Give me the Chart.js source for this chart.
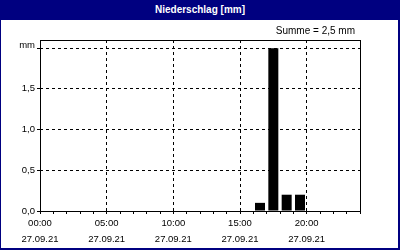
<!DOCTYPE html>
<html>
<head>
<meta charset="utf-8">
<script src="https://cdn.jsdelivr.net/npm/chart.js@4/dist/chart.umd.min.js"></script>
<style>
  html, body { margin: 0; padding: 0; }
  body { width: 400px; height: 250px; background: #000080; position: relative; overflow: hidden;
         font-family: "Liberation Sans", Arial, sans-serif; }
  .title { position: absolute; left: 0; top: 0; width: 400px; height: 20px; line-height: 19px;
           text-align: center; color: #fff; font-weight: bold; font-size: 10px; }
  .panel { position: absolute; left: 1px; top: 20px; width: 397px; height: 228px; background: #fff; }
  .sum { position: absolute; right: 43px; top: 5px; font-size: 10px; color: #000; }
  canvas { position: absolute; left: 0; top: 0; }
</style>
</head>
<body>
<div class="title">Niederschlag [mm]</div>
<div class="panel">
  <canvas id="rainChart" width="397" height="228"></canvas>
  <div class="sum">Summe = 2,5 mm</div>
</div>
<script>
// ── Data ──
// hourly bins of 27.09.21 (hour of day the bin starts at)
const hours = [0, 1, 2, 3, 4, 5, 6, 7, 8, 9, 10, 11, 12, 13, 14, 15, 16, 17, 18, 19, 20, 21, 22, 23];
// precipitation per hour in mm
const rain  = [0, 0, 0, 0, 0, 0, 0, 0, 0, 0, 0, 0, 0, 0, 0, 0, 0.1, 2.0, 0.2, 0.2, 0, 0, 0, 0];
const xTickHours = [0, 5, 10, 15, 20];
const xTickTimes = ['00:00', '05:00', '10:00', '15:00', '20:00'];
const xTickDate  = '27.09.21';
const yTicks = [0, 0.5, 1.0, 1.5, 2.0];
const yUnit  = 'mm';

const tickFont = { family: '"Liberation Sans", Arial, sans-serif', size: 9.5, lineHeight: 1.68 };
const clear = 'rgba(0,0,0,0)';

// solid black frame round the plot area
const framePlugin = {
    id: 'frame',
    afterDraw(chart) {
        const { ctx, chartArea: a } = chart;
        ctx.save();
        ctx.strokeStyle = '#000';
        ctx.lineWidth = 1;
        ctx.strokeRect(a.left + 0.5, a.top + 0.5, a.right - a.left, a.bottom - a.top);
        ctx.restore();
    }
};

new Chart(document.getElementById('rainChart'), {
    type: 'bar',
    data: {
        datasets: [{
            // each bar sits in the middle of its hour
            data: hours.map((h, i) => ({ x: h + 0.5, y: rain[i] })),
            backgroundColor: '#000',
            borderWidth: 0,
            categoryPercentage: 1,
            barPercentage: 0.75
        }]
    },
    options: {
        responsive: false,
        animation: false,
        layout: { padding: { top: 20, right: 38, left: 0, bottom: 0 } },
        plugins: { legend: { display: false }, tooltip: { enabled: false } },
        scales: {
            x: {
                type: 'linear',
                min: 0,
                max: 24,
                offset: false,
                afterBuildTicks: s => { s.ticks = hours.concat(24).map(v => ({ value: v })); },
                afterFit: s => { s.height = 37; },
                border: { display: false, dash: [3, 3] },
                grid: {
                    offset: false,
                    // dashed lines only every 5 hours, short marks every hour
                    color: c => (c.tick && c.tick.value % 5 === 0 && c.tick.value > 0 && c.tick.value < 24) ? '#000' : clear,
                    tickColor: '#000',
                    tickBorderDash: [],
                    tickLength: 3
                },
                ticks: {
                    autoSkip: false,
                    maxRotation: 0,
                    padding: 1,
                    color: '#000',
                    font: tickFont,
                    callback: v => {
                        const i = xTickHours.indexOf(v);
                        return i >= 0 ? [xTickTimes[i], xTickDate] : '';
                    }
                }
            },
            y: {
                min: 0,
                max: 2.1,
                afterBuildTicks: s => { s.ticks = yTicks.map(v => ({ value: v })); },
                afterFit: s => { s.width = 39; },
                border: { display: false, dash: [3, 3] },
                grid: {
                    color: c => (c.tick && c.tick.value > 0) ? '#000' : clear,
                    tickColor: '#000',
                    tickBorderDash: [],
                    tickLength: 3
                },
                ticks: {
                    padding: 2,
                    color: '#000',
                    // the unit label sits a little above its grid line
                    font: c => (c.tick && c.tick.value === 2) ? { ...tickFont, lineHeight: 0.55 } : tickFont,
                    callback: v => v === 2 ? [yUnit, ''] : v.toFixed(1).replace('.', ',')
                }
            }
        }
    },
    plugins: [framePlugin]
});
</script>
</body>
</html>
